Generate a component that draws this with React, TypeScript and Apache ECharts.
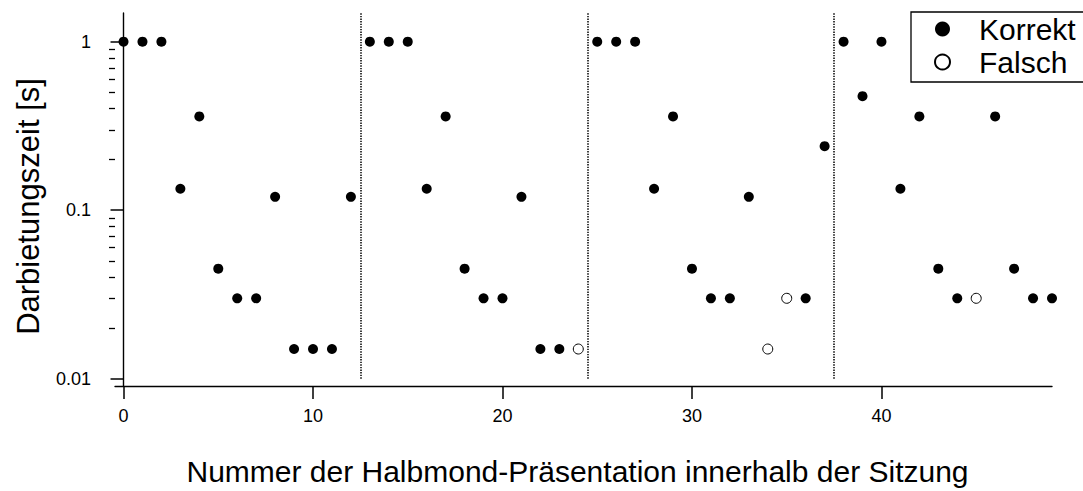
import React, { useEffect, useRef } from "react";
import * as echarts from "echarts";

// Darbietungszeit (s) per presentation number 0..49; null = answer was wrong
const correctTimes: (number | null)[] = [
  1, 1, 1, 0.134, 0.36, 0.045, 0.03, 0.03, 0.12, 0.015, 0.015, 0.015, 0.12,
  1, 1, 1, 0.134, 0.36, 0.045, 0.03, 0.03, 0.12, 0.015, 0.015, null,
  1, 1, 1, 0.134, 0.36, 0.045, 0.03, 0.03, 0.12, null, null, 0.03, 0.24,
  1, 0.475, 1, 0.134, 0.36, 0.045, 0.03, null, 0.36, 0.045, 0.03, 0.03,
];
const wrongPresentations = [24, 34, 35, 45];
const wrongTimes = [0.015, 0.015, 0.03, 0.03];
const sessionSeparators = [12.5, 24.5, 37.5];
const xTickValues = [0, 10, 20, 30, 40];
const yTickValues = [0.01, 0.1, 1];
const yMinorTickValues = [
  0.02, 0.03, 0.04, 0.05, 0.06, 0.07, 0.08, 0.09,
  0.2, 0.3, 0.4, 0.5, 0.6, 0.7, 0.8, 0.9,
];
const X_MIN = -0.45;
const X_MAX = 49;
const Y_MIN = 0.00905;
const Y_MAX = 1.48;

const FONT = "'Liberation Sans', Arial, Helvetica, sans-serif";

export default function App() {
  const ref = useRef<HTMLDivElement>(null);
  useEffect(() => {
    if (!ref.current) return;
    const chart = echarts.init(ref.current, undefined, { renderer: "svg" });
    const correctData: [number, number][] = [];
    correctTimes.forEach((v, i) => {
      if (v !== null) correctData.push([i, v]);
    });
    const wrongData = wrongPresentations.map((x, i) => [x, wrongTimes[i]]);
    const sepLines = sessionSeparators.map((x) => [
      { coord: [x, yTickValues[0]] },
      { coord: [x, Y_MAX] },
    ]);
    chart.setOption({
      animation: false,
      backgroundColor: "#fff",
      textStyle: { fontFamily: FONT },
      grid: { left: 115, top: 13, right: 31, bottom: 104, containLabel: false },
      legend: {
        orient: "vertical",
        left: 911,
        top: 12,
        padding: [2, 9, 5, 23],
        itemGap: 3,
        itemWidth: 15,
        itemHeight: 15,
        icon: "circle",
        borderColor: "#000",
        borderWidth: 1.3,
        borderRadius: 0,
        selectedMode: false,
        textStyle: {
          fontFamily: FONT,
          fontSize: 30,
          color: "#000",
          padding: [0, 0, 0, 24],
        },
        data: ["Korrekt", "Falsch"],
      },
      xAxis: {
        type: "value",
        min: X_MIN,
        max: X_MAX,
        name: "Nummer der Halbmond-Präsentation innerhalb der Sitzung",
        nameLocation: "middle",
        nameGap: 70,
        nameTextStyle: {
          fontFamily: FONT,
          fontSize: 30,
          color: "#000",
          padding: [0, 12, 0, 0],
        },
        axisLine: { onZero: false, lineStyle: { color: "#000", width: 1.4 } },
        axisTick: {
          length: 13,
          customValues: xTickValues,
          lineStyle: { color: "#000", width: 1.5 },
        },
        axisLabel: {
          customValues: xTickValues,
          fontFamily: FONT,
          fontSize: 18,
          color: "#000",
          margin: 21,
        },
        splitLine: { show: false },
      },
      yAxis: [
        {
          type: "log",
          position: "left",
          min: Y_MIN,
          max: Y_MAX,
          name: "Darbietungszeit [s]",
          nameLocation: "middle",
          nameGap: 71,
          nameRotate: 90,
          nameTextStyle: {
            fontFamily: FONT,
            fontSize: 31,
            color: "#000",
            padding: [0, 14, 0, 0],
          },
          axisLine: { show: true, lineStyle: { color: "#000", width: 1.4 } },
          axisTick: {
            show: true,
            length: 13,
            customValues: yTickValues,
            lineStyle: { color: "#000", width: 1.5 },
          },
          axisLabel: {
            customValues: yTickValues,
            fontFamily: FONT,
            fontSize: 18,
            color: "#000",
            margin: 24,
            formatter: (v: number) => String(v),
          },
          splitLine: { show: false },
          minorTick: { show: false },
        },
        {
          type: "log",
          position: "left",
          offset: 0,
          min: Y_MIN,
          max: Y_MAX,
          axisLine: { show: false },
          axisTick: {
            show: true,
            length: 6,
            customValues: yMinorTickValues,
            lineStyle: { color: "#000", width: 1.3 },
          },
          axisLabel: { show: false },
          splitLine: { show: false },
        },
      ],
      series: [
        {
          name: "Korrekt",
          type: "scatter",
          yAxisIndex: 0,
          symbol: "circle",
          symbolSize: 10,
          itemStyle: { color: "#000", opacity: 1 },
          data: correctData,
          markLine: {
            silent: true,
            symbol: ["none", "none"],
            label: { show: false },
            lineStyle: { color: "#000", type: [1.4, 1.2], width: 1.5, opacity: 1 },
            emphasis: { disabled: true },
            data: sepLines,
          },
        },
        {
          name: "Falsch",
          type: "scatter",
          yAxisIndex: 0,
          symbol: "circle",
          symbolSize: 10,
          itemStyle: { color: "#fff", borderColor: "#000", borderWidth: 1, opacity: 1 },
          data: wrongData,
        },
      ],
    });
    return () => chart.dispose();
  }, []);
  return (
    <div
      ref={ref}
      style={{ position: "absolute", left: 0, top: 0, width: 1083, height: 491 }}
    />
  );
}
